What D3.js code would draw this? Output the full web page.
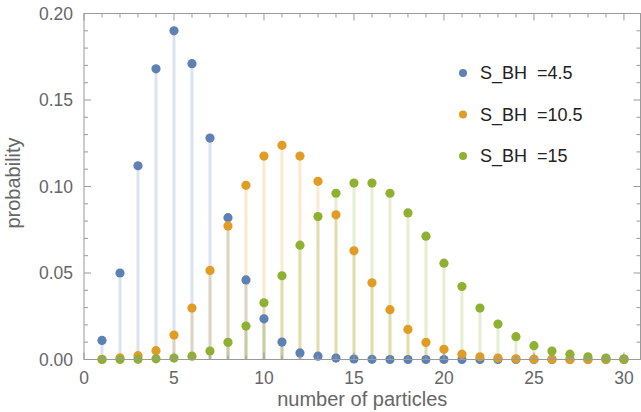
<!DOCTYPE html>
<html>
<head>
<meta charset="utf-8">
<script src="https://cdn.jsdelivr.net/npm/d3@7"></script>
<style>
  body { margin: 0; background: #fff; }
  svg { display: block; font-family: "Liberation Sans", Arial, sans-serif; }
</style>
</head>
<body>
<div id="chart"></div>
<script>
// number of particles vs probability, three S_BH values
const particles = [1, 2, 3, 4, 5, 6, 7, 8, 9, 10, 11, 12, 13, 14, 15,
  16, 17, 18, 19, 20, 21, 22, 23, 24, 25, 26, 27, 28, 29, 30];

const probS45 = [0.011, 0.050, 0.112, 0.168, 0.190, 0.171, 0.128, 0.082, 0.046, 0.0235,
  0.0101, 0.0038, 0.0019, 0.0008, 0.0003, 0.0001, 0, 0, 0, 0,
  0, 0, 0, 0, 0, 0, 0, 0, 0, 0];

const probS105 = [0.0001, 0.0009, 0.0022, 0.0051, 0.0141, 0.0297, 0.0515, 0.0772, 0.1007, 0.1176,
  0.1238, 0.1176, 0.1030, 0.0836, 0.0628, 0.0443, 0.0288, 0.0174, 0.0099, 0.0059,
  0.0031, 0.0016, 0.0008, 0.0004, 0.0002, 0.0001, 0, 0, 0, 0];

const probS15 = [0, 0, 0.0001, 0.0004, 0.0008, 0.0019, 0.0049, 0.0099, 0.0193, 0.0328,
  0.0484, 0.0661, 0.0826, 0.0961, 0.1020, 0.1020, 0.0961, 0.0847, 0.0713, 0.0557,
  0.0422, 0.0297, 0.0205, 0.0132, 0.0080, 0.0049, 0.0031, 0.0016, 0.0008, 0.0004];

const seriesNames = ['S_BH  =4.5', 'S_BH  =10.5', 'S_BH  =15'];
const seriesValues = [probS45, probS105, probS15];
const colors = ['#5e81b5', '#e19c24', '#8fb131'];

const xTicks = [0, 5, 10, 15, 20, 25, 30];
const yTicks = [0, 0.05, 0.10, 0.15, 0.20];

(() => {
  const width = 641;
  const height = 412;
  const m = { left: 84, right: 640.5, top: 13.5, bottom: 359.5 };

  const svg = d3.select('#chart').append('svg')
    .attr('width', width)
    .attr('height', height);

  const x = d3.scaleLinear().domain([0, 30.92]).range([m.left, m.right]);
  const y = d3.scaleLinear().domain([0, 0.2]).range([m.bottom, m.top]);

  const frameColor = '#9a9a9a';
  const labelColor = '#666';

  // stems first (all series), then the points on top
  seriesValues.forEach((vals, i) => {
    const pts = particles.map((n, j) => ({ n, v: vals[j] }));
    svg.append('g').selectAll('line').data(pts).join('line')
      .attr('x1', d => x(d.n)).attr('x2', d => x(d.n))
      .attr('y1', y(0)).attr('y2', d => y(d.v))
      .attr('stroke', colors[i])
      .attr('stroke-opacity', 0.22)
      .attr('stroke-width', 3);
  });
  seriesValues.forEach((vals, i) => {
    const pts = particles.map((n, j) => ({ n, v: vals[j] }));
    svg.append('g').selectAll('circle').data(pts).join('circle')
      .attr('cx', d => x(d.n))
      .attr('cy', d => y(d.v))
      .attr('r', 4.6)
      .attr('fill', colors[i]);
  });

  // frame with inward ticks on all four sides
  const frame = svg.append('g').attr('stroke', frameColor).attr('stroke-width', 1).attr('fill', 'none');
  frame.append('rect')
    .attr('x', m.left).attr('y', m.top)
    .attr('width', m.right - m.left).attr('height', m.bottom - m.top);

  const xMinor = d3.range(0, 31, 1);
  const yMinor = d3.range(0, 21, 1).map(k => k / 100);

  xMinor.forEach(t => {
    const len = t % 5 === 0 ? 7 : 4;
    frame.append('line').attr('x1', x(t)).attr('x2', x(t)).attr('y1', m.bottom).attr('y2', m.bottom - len);
    frame.append('line').attr('x1', x(t)).attr('x2', x(t)).attr('y1', m.top).attr('y2', m.top + len);
  });
  yMinor.forEach((t, k) => {
    const len = k % 5 === 0 ? 7 : 4;
    frame.append('line').attr('x1', m.left).attr('x2', m.left + len).attr('y1', y(t)).attr('y2', y(t));
    frame.append('line').attr('x1', m.right).attr('x2', m.right - len).attr('y1', y(t)).attr('y2', y(t));
  });

  // tick labels
  svg.append('g').selectAll('text').data(xTicks).join('text')
    .attr('x', d => x(d))
    .attr('y', 384)
    .attr('text-anchor', 'middle')
    .attr('font-size', 17.5)
    .attr('fill', labelColor)
    .text(d => d);

  svg.append('g').selectAll('text').data(yTicks).join('text')
    .attr('x', 73)
    .attr('y', d => y(d))
    .attr('dy', '0.36em')
    .attr('text-anchor', 'end')
    .attr('font-size', 17.5)
    .attr('fill', labelColor)
    .text(d => d3.format('.2f')(d));

  // axis titles
  svg.append('text')
    .attr('x', (m.left + m.right) / 2)
    .attr('y', 406)
    .attr('text-anchor', 'middle')
    .attr('font-size', 20)
    .attr('fill', labelColor)
    .text('number of particles');

  svg.append('text')
    .attr('transform', `translate(20,183) rotate(-90)`)
    .attr('text-anchor', 'middle')
    .attr('font-size', 20)
    .attr('fill', labelColor)
    .text('probability');

  // legend
  const legend = svg.append('g');
  seriesNames.forEach((name, i) => {
    const ly = 73 + i * 41.5;
    legend.append('circle')
      .attr('cx', 463).attr('cy', ly).attr('r', 4)
      .attr('fill', colors[i]);
    legend.append('text')
      .attr('x', 480).attr('y', ly)
      .attr('dy', '0.36em')
      .attr('font-size', 18)
      .attr('fill', '#222')
      .style('white-space', 'pre')
      .text(name);
  });
})();
</script>
</body>
</html>
